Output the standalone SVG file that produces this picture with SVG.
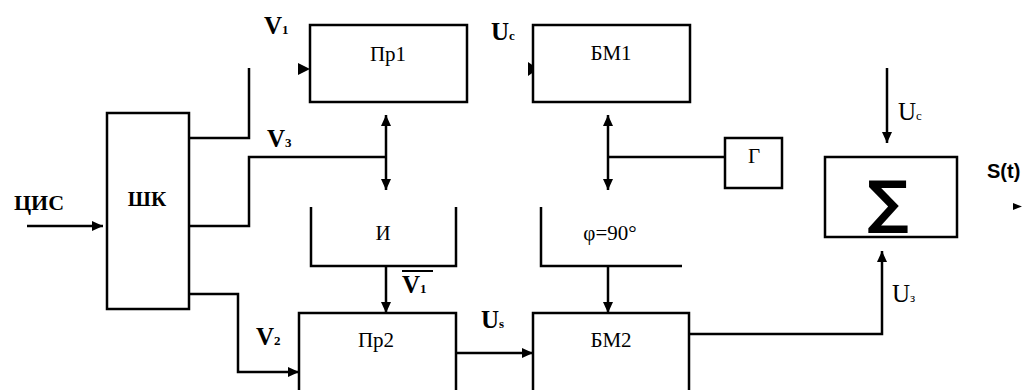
<svg xmlns="http://www.w3.org/2000/svg" width="1031" height="390" viewBox="0 0 1031 390">
<defs>
<marker id="ah" viewBox="0 0 10 10" refX="10" refY="5" markerWidth="11" markerHeight="10" markerUnits="userSpaceOnUse" orient="auto-start-reverse" preserveAspectRatio="none">
<path d="M0,0 L10,5 L0,10 Z" fill="#000"/>
</marker>
</defs>
<style>
.b{fill:#fff;stroke:#000;stroke-width:2.5}
.w{fill:none;stroke:#000;stroke-width:2.5}
.a{fill:none;stroke:#000;stroke-width:2.5;marker-end:url(#ah)}
.d{fill:none;stroke:#000;stroke-width:2.5;marker-start:url(#ah);marker-end:url(#ah)}
.t{font-family:"Liberation Serif",serif;font-size:21px;fill:#000}
.l{font-family:"Liberation Serif",serif;font-size:25px;font-weight:bold;fill:#000}
.r{font-family:"Liberation Serif",serif;font-size:25px;fill:#000}
.s{font-size:13px}
.f{font-family:"Liberation Sans",Arial,sans-serif;font-size:20px;font-weight:bold;fill:#000}
</style>
<rect width="1031" height="390" fill="#fff"/>

<g id="connectors">
<path class="a" d="M27,226 L103,226"/>
<path class="w" d="M189,138 L249,138 L249,68"/>
<path d="M298,63 L310,69 L298,75 Z" fill="#000"/>
<path d="M528,62 L538,69 L528,76 Z" fill="#000"/>
<path class="w" d="M189,226 L249,226 L249,157 L386,157"/>
<path class="d" d="M386,115 L386,190"/>
<path class="d" d="M608,115 L608,190"/>
<path class="w" d="M608,157 L725,157"/>
<path class="a" d="M386,266 L386,313"/>
<path class="a" d="M608,266 L608,313"/>
<path class="a" d="M189,294 L238,294 L238,372 L299,372"/>
<path class="a" d="M456,353 L533,353"/>
<path class="a" d="M689,334 L882,334 L882,251"/>
<path class="a" d="M887,68 L887,143"/>
<path d="M1013,203 L1022,206.5 L1013,210 Z" fill="#000"/>
</g>

<g id="shk">
<rect class="b" x="107" y="113" width="82" height="196"/>
<text class="t" x="147" y="206" text-anchor="middle" font-weight="bold">ШК</text>
</g>
<g id="pr1">
<rect class="b" x="310" y="25" width="157" height="77"/>
<text class="t" x="388" y="61" text-anchor="middle">Пр1</text>
</g>
<g id="bm1">
<rect class="b" x="533" y="25" width="157" height="77"/>
<text class="t" x="611" y="60" text-anchor="middle">БМ1</text>
</g>
<g id="i">
<path class="w" d="M311,207 L311,266 L456,266 L456,207"/>
<text class="t" x="383" y="240" text-anchor="middle">И</text>
</g>
<g id="phi">
<path class="w" d="M541,207 L541,266 L682,266"/>
<text class="t" x="610" y="240" text-anchor="middle">φ=90°</text>
</g>
<g id="g">
<rect class="b" x="725" y="138" width="57" height="50"/>
<text class="t" x="754" y="163" text-anchor="middle">Г</text>
</g>
<g id="pr2">
<rect class="b" x="299" y="313" width="157" height="90"/>
<text class="t" x="376" y="347" text-anchor="middle">Пр2</text>
</g>
<g id="bm2">
<rect class="b" x="533" y="313" width="156" height="90"/>
<text class="t" x="611" y="347" text-anchor="middle">БМ2</text>
</g>
<g id="sum">
<rect class="b" x="825" y="157" width="132" height="80"/>
<text x="888" y="222" text-anchor="middle" font-family="DejaVu Sans,sans-serif" font-size="58" font-weight="bold" fill="#000">∑</text>
</g>

<g id="labels">
<text class="l" x="14" y="210" style="font-size:22px">ЦИС</text>
<text class="l" x="264" y="34">V<tspan class="s">1</tspan></text>
<text class="l" x="491" y="40">U<tspan class="s">c</tspan></text>
<text class="l" x="267" y="147">V<tspan class="s">3</tspan></text>
<text class="l" x="256" y="345">V<tspan class="s">2</tspan></text>
<line x1="402" y1="271" x2="433" y2="271" stroke="#000" stroke-width="2"/>
<text class="l" x="402" y="293">V<tspan class="s">1</tspan></text>
<text class="l" x="481" y="328">U<tspan class="s">s</tspan></text>
<text class="r" x="898" y="120">U<tspan class="s">c</tspan></text>
<text class="r" x="892" y="302">U<tspan class="s">з</tspan></text>
<text class="f" x="987" y="178">S(t)</text>
</g>
</svg>
